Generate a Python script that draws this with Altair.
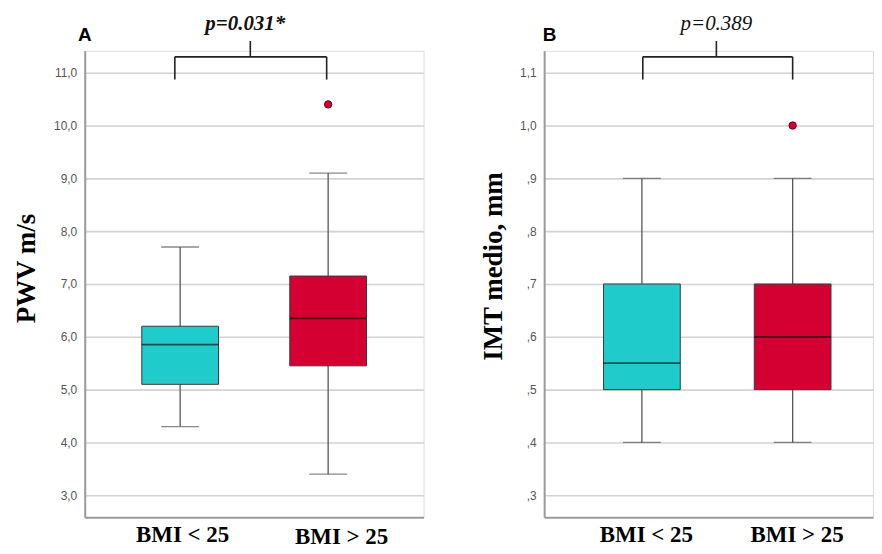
import altair as alt
import pandas as pd

# ---------------- data ----------------
groups = ["BMI < 25", "BMI > 25"]
group_pos = [1, 2]
box_colors = ["#1fcbcb", "#d50032"]

# Panel A: PWV m/s
pwv_low = [4.3, 3.4]
pwv_q1 = [5.1, 5.45]
pwv_med = [5.85, 6.35]
pwv_q3 = [6.2, 7.15]
pwv_high = [7.7, 9.1]
pwv_out_group = ["BMI > 25"]
pwv_out_pos = [2]
pwv_out_val = [10.4]
pwv_ticks = [3, 4, 5, 6, 7, 8, 9, 10, 11]

# Panel B: IMT medio, mm
imt_low = [0.4, 0.4]
imt_q1 = [0.5, 0.5]
imt_med = [0.55, 0.6]
imt_q3 = [0.7, 0.7]
imt_high = [0.9, 0.9]
imt_out_group = ["BMI > 25"]
imt_out_pos = [2]
imt_out_val = [1.0]
imt_ticks = [0.3, 0.4, 0.5, 0.6, 0.7, 0.8, 0.9, 1.0, 1.1]

# annotations (bracket + p value + panel letter), in data coordinates
ann_A = dict(letter="A", lx=0.356, ly=11.60,
             ptext="p=0.031*", px=1.44, py=11.81, pweight="bold",
             bx1=0.964, bx2=1.99, bmid=1.474, btop=11.60, bbar=11.30, bfoot=10.87)
ann_B = dict(letter="B", lx=0.388, ly=1.160,
             ptext="p=0.389", px=1.494, py=1.181, pweight="normal",
             bx1=1.006, bx2=2.0, bmid=1.494, btop=1.160, bbar=1.130, bfoot=1.087)

SERIF = "Liberation Serif"
SANS = "Liberation Sans"


def panel(low, q1, med, q3, high, out_group, out_pos, out_val, ticks,
          ydomain, xdomain, ytitle, label_expr, ann, width, height,
          title_pad, title_y, xlab_offset, xlab_pad):
    df = pd.DataFrame(dict(group=groups, pos=group_pos, low=low, q1=q1,
                           med=med, q3=q3, high=high))
    dout = pd.DataFrame(dict(group=out_group, pos=out_pos, value=out_val))

    xaxis = alt.Axis(values=group_pos, grid=False, ticks=False,
                     labelExpr=f"datum.value == 1 ? '{groups[0]}' : '{groups[1]}'",
                     labelFont=SERIF, labelFontSize=23, labelFontWeight="bold",
                     labelColor="black", labelPadding=xlab_pad,
                     labelOffset=xlab_offset,
                     domainColor="#9a9a9a", domainWidth=2, title=None)
    yaxis = alt.Axis(values=ticks, grid=True, gridColor="#d2d2d2", gridWidth=1.6,
                     ticks=False, labelExpr=label_expr, labelFont=SANS,
                     labelFontSize=12, labelColor="#555555", labelPadding=8,
                     domainColor="#9a9a9a", domainWidth=2,
                     title=ytitle, titleFont=SERIF, titleFontSize=27,
                     titleFontWeight="bold", titleColor="black",
                     titlePadding=title_pad, titleY=title_y)
    xs = alt.Scale(domain=xdomain, nice=False, zero=False)
    ys = alt.Scale(domain=ydomain, nice=False, zero=False)

    def X(f):
        return alt.X(f"{f}:Q", scale=xs, axis=xaxis)

    def Y(f):
        return alt.Y(f"{f}:Q", scale=ys, axis=yaxis)

    base = alt.Chart(df)
    whisker = base.mark_rule(color="#555555", strokeWidth=1.3).encode(
        x=X("pos"), y=Y("low"), y2="high")
    cap_lo = base.mark_tick(orient="horizontal", size=38, thickness=1.3,
                            color="#555555").encode(x=X("pos"), y=Y("low"))
    cap_hi = base.mark_tick(orient="horizontal", size=38, thickness=1.3,
                            color="#555555").encode(x=X("pos"), y=Y("high"))
    box = base.mark_bar(size=77, stroke="#3a3a3a", strokeWidth=1,
                        opacity=1).encode(
        x=X("pos"), y=Y("q1"), y2="q3",
        color=alt.Color("group:N", scale=alt.Scale(domain=groups, range=box_colors),
                        legend=None))
    median = base.mark_tick(orient="horizontal", size=77, thickness=1.8,
                            color="black", opacity=0.6).encode(
        x=X("pos"), y=Y("med"))
    outl = alt.Chart(dout).mark_point(filled=True, size=55, fill="#d50032",
                                      stroke="#6a0015", strokeWidth=1,
                                      opacity=1).encode(x=X("pos"), y=Y("value"))

    dbr = pd.DataFrame(dict(
        x1=[ann["bx1"], ann["bx1"], ann["bx2"], ann["bmid"]],
        x2=[ann["bx2"], ann["bx1"], ann["bx2"], ann["bmid"]],
        y1=[ann["bbar"], ann["bfoot"], ann["bfoot"], ann["bbar"]],
        y2=[ann["bbar"], ann["bbar"], ann["bbar"], ann["btop"]],
    ))
    bracket = alt.Chart(dbr).mark_rule(color="#222222", strokeWidth=1.6).encode(
        x=X("x1"), x2="x2", y=Y("y1"), y2="y2")

    dp = pd.DataFrame(dict(t=[ann["ptext"]], x=[ann["px"]], y=[ann["py"]]))
    ptext = alt.Chart(dp).mark_text(font=SERIF, fontSize=21, fontStyle="italic",
                                    fontWeight=ann["pweight"], color="#111111",
                                    baseline="alphabetic").encode(
        x=X("x"), y=Y("y"), text="t:N")
    dl = pd.DataFrame(dict(t=[ann["letter"]], x=[ann["lx"]], y=[ann["ly"]]))
    letter = alt.Chart(dl).mark_text(font=SANS, fontSize=19, fontWeight="bold",
                                     color="black", baseline="alphabetic").encode(
        x=X("x"), y=Y("y"), text="t:N")

    return alt.layer(whisker, cap_lo, cap_hi, box, median, outl, bracket, ptext,
                     letter).properties(width=width, height=height)


lab_A = "replace(format(datum.value, '.1f'), '.', ',')"
lab_B = ("datum.value < 0.95 ? ',' + format(datum.value * 10, '.0f') : "
         "replace(format(datum.value, '.1f'), '.', ',')")

pA = panel(pwv_low, pwv_q1, pwv_med, pwv_q3, pwv_high, pwv_out_group, pwv_out_pos,
           pwv_out_val, pwv_ticks, [2.585, 11.415], [0.3889, 2.6111], "PWV m/s",
           lab_A, ann_A, 340, 468, 13, 218,
           {"condition": {"test": "datum.value == 2", "value": 13}, "value": 2},
           {"condition": {"test": "datum.value == 2", "value": 8}, "value": 6})
pB = panel(imt_low, imt_q1, imt_med, imt_q3, imt_high, imt_out_group, imt_out_pos,
           imt_out_val, imt_ticks, [0.2585, 1.1415], [0.3846, 2.5], "IMT medio, mm",
           lab_B, ann_B, 330, 468, 12, 216, 4, 6)

chart = alt.hconcat(pA, pB, spacing=54).properties(
    padding={"left": 4, "top": 3, "right": 0, "bottom": 0}
).configure_view(stroke=None).configure(background="white")

chart.save("out.html", embed_options={"renderer": "svg", "actions": False})
